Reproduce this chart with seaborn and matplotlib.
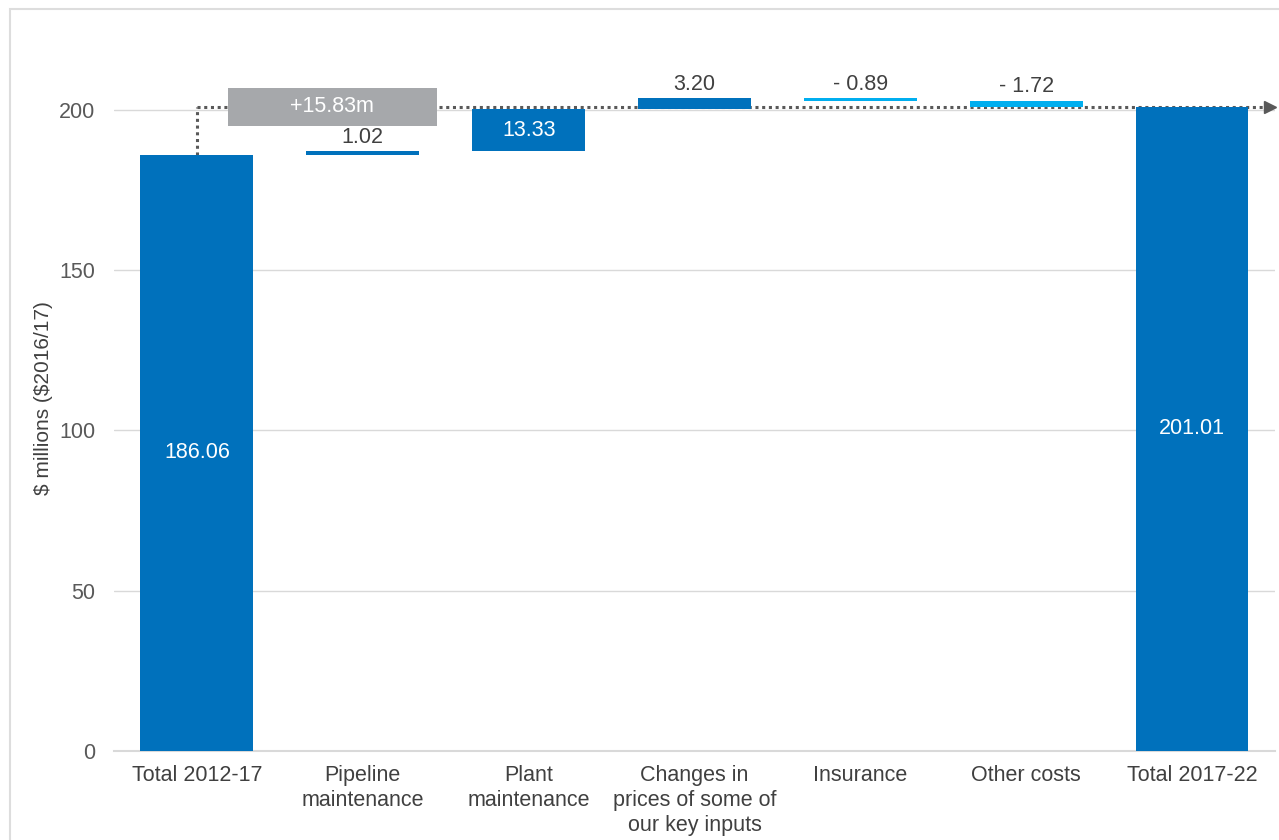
import matplotlib
matplotlib.use("Agg")
import matplotlib.pyplot as plt
from matplotlib.patches import Rectangle
import numpy as np
import pandas as pd
import seaborn as sns

# Waterfall data ($ millions, $2016/17)
categories = ["Total 2012-17", "Pipeline\nmaintenance", "Plant\nmaintenance",
              "Changes in\nprices of some of\nour key inputs", "Insurance",
              "Other costs", "Total 2017-22"]
kinds = ["total", "delta", "delta", "delta", "delta", "delta", "total"]
values = [186.06, 1.02, 13.33, 3.20, -0.89, -1.72, 201.01]
value_labels = ["186.06", "1.02", "13.33", "3.20", "- 0.89", "- 1.72", "201.01"]
change_label = "+15.83m"
y_ticks = [0, 50, 100, 150, 200]
y_label = "$ millions ($2016/17)"

DARK_BLUE = "#0071BC"
LIGHT_BLUE = "#00AEEF"
GREY_BOX = "#A6A8AB"
TEXT = "#404040"
GRID = "#D9D9D9"
FS = 15.5

# Compute floating bar bottoms / heights
bottoms, heights, colors = [], [], []
running = 0.0
for k, v in zip(kinds, values):
    if k == "total":
        bottoms.append(0.0)
        heights.append(v)
        colors.append(DARK_BLUE)
        running = v
    else:
        start, end = running, running + v
        bottoms.append(min(start, end))
        heights.append(abs(v))
        colors.append(DARK_BLUE if v >= 0 else LIGHT_BLUE)
        running = end

df = pd.DataFrame({"category": categories, "top": np.add(bottoms, heights),
                   "bottom": bottoms, "height": heights})

sns.set_theme(style="white")
plt.rcParams["font.family"] = ["Liberation Sans", "DejaVu Sans"]
plt.rcParams["text.parse_math"] = False

fig = plt.figure(figsize=(12.79, 8.40), dpi=100)
ax = fig.add_axes([0.0891, 0.106, 0.9078, 0.8394])

sns.barplot(data=df, x="category", y="top", hue="category",
            palette=colors, legend=False, width=0.68, saturation=1,
            order=categories, ax=ax, zorder=3)

# Float each bar on its base
for patch, b, h in zip(ax.patches, bottoms, heights):
    patch.set_y(b)
    patch.set_height(h)
    patch.set_edgecolor("none")

ax.set_xlim(-0.5, len(categories) - 0.5)
ax.set_ylim(0, 220)
ax.set_yticks(y_ticks)
ax.yaxis.grid(True, color=GRID, linewidth=1)
ax.set_axisbelow(True)
for s in ["top", "right", "left"]:
    ax.spines[s].set_visible(False)
ax.spines["bottom"].set_color(GRID)
ax.spines["bottom"].set_linewidth(1.5)

ax.tick_params(axis="x", length=0, pad=10, labelsize=FS, labelcolor=TEXT)
ax.tick_params(axis="y", length=0, pad=13.5, labelsize=FS, labelcolor="#595959")
for t in ax.get_xticklabels():
    t.set_linespacing(1.25)
    t.set_verticalalignment("top")
ax.set_xlabel("")
ax.set_ylabel(y_label, fontsize=15, color=TEXT)
ax.yaxis.set_label_coords(-0.0525, 0.5)

# Value labels
for i, (k, v, b, h, lab) in enumerate(zip(kinds, values, bottoms, heights, value_labels)):
    if k == "total" or h > 8:
        ax.text(i, b + h / 2, lab, ha="center", va="center", color="white", fontsize=FS, zorder=5)
    else:
        ax.text(i, b + h + 1.2, lab, ha="center", va="bottom", color=TEXT, fontsize=FS, zorder=5)

# Dotted connector from the first total to the final total level, with arrowhead
start_total, end_total = values[0], values[-1]
dot = dict(color="#595959", linewidth=2.2, linestyle=(0, (1, 1.2)),
           dash_capstyle="butt", clip_on=False)
ax.plot([0, 0], [start_total, end_total], zorder=2, **dot)
ax.plot([0, len(categories) - 0.55], [end_total, end_total], zorder=2, **dot)
ax.plot([len(categories) - 0.53], [end_total], marker=">", markersize=8,
        color="#595959", clip_on=False, zorder=2, linestyle="none")

# Change callout box
box_x, box_w = 0.815, 1.26
box_y0, box_y1 = 195.0, 206.9
ax.add_patch(Rectangle((box_x - box_w / 2, box_y0), box_w, box_y1 - box_y0,
                       facecolor=GREY_BOX, edgecolor="none", zorder=4))
ax.text(box_x, (box_y0 + box_y1) / 2, change_label, ha="center", va="center",
        color="white", fontsize=FS, zorder=5)

# Light outer frame
fig.patches.append(Rectangle((9.5 / 1279, -0.02), 1.05, 1 - 9.5 / 840 + 0.02,
                             transform=fig.transFigure, facecolor="none",
                             edgecolor="#DDDDDD", linewidth=1.5, zorder=0))

fig.savefig("out.png", dpi=100)
